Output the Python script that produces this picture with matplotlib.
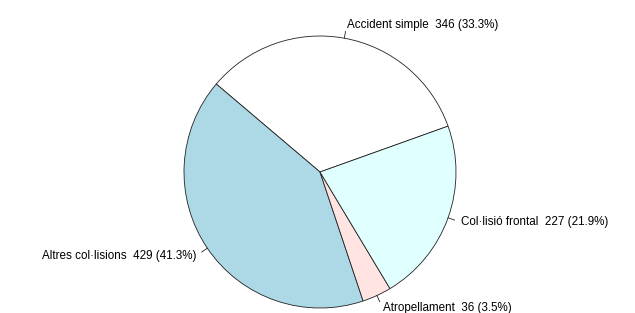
import numpy as np
import matplotlib.pyplot as plt

plt.rcParams['font.family'] = ['Liberation Sans', 'DejaVu Sans']

categories = ['Accident simple', 'Altres col·lisions', 'Atropellament', 'Col·lisió frontal']
counts = [346, 429, 36, 227]
pcts = [33.3, 41.3, 3.5, 21.9]
colors = ['white', 'lightblue', 'mistyrose', 'lightcyan']

fig = plt.figure(figsize=(6.35, 3.13), dpi=100)
ax = fig.add_axes([0, 0, 1, 1])
cx, cy, r = 320, 141, 136
start = 19.7

wedges, _ = ax.pie(counts, colors=colors, startangle=start, counterclock=True,
                   center=(cx, cy), radius=r,
                   wedgeprops=dict(edgecolor='#222222', linewidth=0.6))

for w, name, n, p in zip(wedges, categories, counts, pcts):
    a = np.deg2rad((w.theta1 + w.theta2) / 2)
    c, s = np.cos(a), np.sin(a)
    ax.plot([cx + r * c, cx + 1.05 * r * c], [cy + r * s, cy + 1.05 * r * s],
            color='#222222', lw=0.6)
    ax.text(cx + 1.1 * r * c, cy + 1.1 * r * s, f"{name}  {n} ({p}%)",
            ha='left' if c > 0 else 'right', va='center', fontsize=8.4)

ax.set_xlim(0, 635)
ax.set_ylim(0, 313)
ax.set_aspect('equal')
ax.axis('off')
fig.savefig('out.png', dpi=100)
